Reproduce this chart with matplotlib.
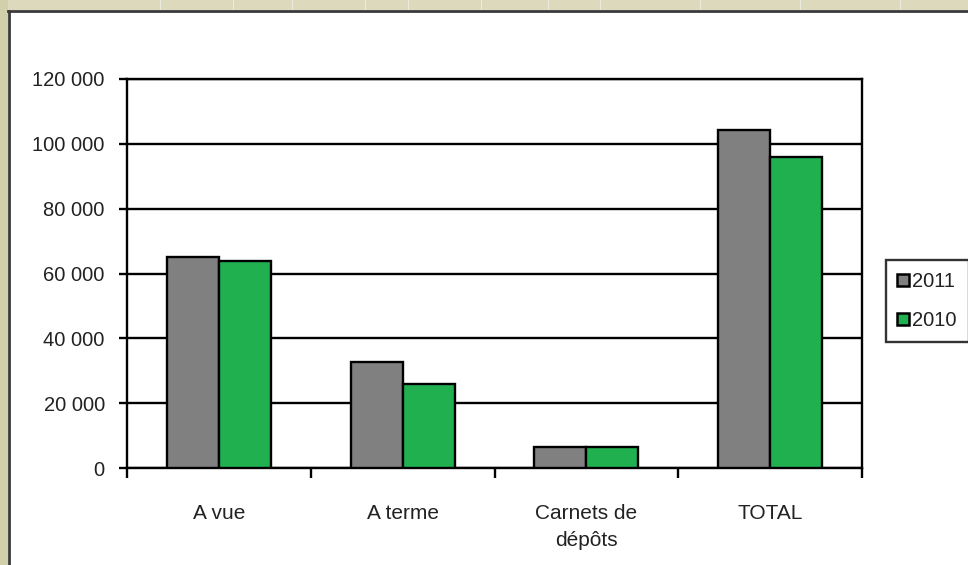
import matplotlib
matplotlib.use("Agg")
import matplotlib.pyplot as plt
from matplotlib.patches import Rectangle
from matplotlib.lines import Line2D
import numpy as np

categories = ["A vue", "A terme", "Carnets de\ndépôts", "TOTAL"]
series_names = ["2011", "2010"]
values_2011 = [65200, 32600, 6500, 104300]
values_2010 = [64000, 25800, 6500, 96000]
y_ticks = [0, 20000, 40000, 60000, 80000, 100000, 120000]
y_tick_labels = ["0", "20 000", "40 000", "60 000", "80 000", "100 000", "120 000"]

colors = ["#808080", "#21b050"]
W, H = 968, 565
plt.rcParams['font.family'] = ['Liberation Sans', 'DejaVu Sans']

fig = plt.figure(figsize=(W / 100, H / 100), dpi=100)
fig.patch.set_facecolor("white")

# window frame (screenshot border)
fig.patches.append(Rectangle((0, 1 - 10 / H), 1, 10 / H, transform=fig.transFigure,
                             facecolor="#dcd9bc", edgecolor="none", zorder=0))
fig.patches.append(Rectangle((0, 0), 8 / W, 1, transform=fig.transFigure,
                             facecolor="#d2cfab", edgecolor="none", zorder=0))
for xp in [160, 233, 292, 365, 408, 481, 548, 600, 700, 800, 900]:
    fig.lines.append(Line2D([xp / W, xp / W], [1 - 10 / H, 1], transform=fig.transFigure,
                            color="#ecebe0", lw=0.8))
fig.lines.append(Line2D([8 / W, 1], [1 - 11 / H, 1 - 11 / H], transform=fig.transFigure,
                        color="#3a3a3a", lw=2.0))
fig.lines.append(Line2D([9 / W, 9 / W], [0, 1 - 11 / H], transform=fig.transFigure,
                        color="#3a3a3a", lw=2.0))

ax = fig.add_axes([127 / W, 97 / H, (862 - 127) / W, (468 - 79) / H])
x = np.arange(len(categories))
bw = 0.283
ax.bar(x - bw / 2, values_2011, width=bw, color=colors[0], edgecolor="black", linewidth=1.7, zorder=3)
ax.bar(x + bw / 2, values_2010, width=bw, color=colors[1], edgecolor="black", linewidth=1.7, zorder=3)

ax.set_xlim(-0.5, len(categories) - 0.5)
ax.set_ylim(0, 120000)
ax.set_yticks(y_ticks)
ax.set_yticklabels(y_tick_labels, fontsize=14.5, color="#222222")
ax.yaxis.grid(True, color="black", linewidth=1.7, zorder=1)
ax.set_axisbelow(True)
ax.tick_params(axis="y", length=6, width=1.7, direction="out", pad=10)

ax.set_xticks(x)
ax.set_xticklabels(categories, fontsize=15, color="#222222", linespacing=1.55)
ax.tick_params(axis="x", which="major", length=0, pad=26)
ax.set_xticks(np.arange(-0.5, len(categories)), minor=True)
ax.tick_params(axis="x", which="minor", length=7, width=1.7, direction="out")

for s in ["left", "bottom", "right", "top"]:
    ax.spines[s].set_linewidth(1.7)
    ax.spines[s].set_color("black")

handles = [Line2D([], [], marker="s", ls="none", markersize=8, markerfacecolor=c,
                  markeredgecolor="black", markeredgewidth=1.8) for c in colors]
leg = fig.legend(handles, series_names, loc="upper left",
                 bbox_to_anchor=(886 / W, 1 - 260 / H), fontsize=14.5,
                 frameon=True, fancybox=False, edgecolor="black",
                 handlelength=0.5, handletextpad=0.2, borderpad=0.6,
                 labelspacing=1.0, borderaxespad=0)
leg.get_frame().set_linewidth(1.7)
for t in leg.get_texts():
    t.set_color("#222222")

fig.savefig("out.png", dpi=100)
